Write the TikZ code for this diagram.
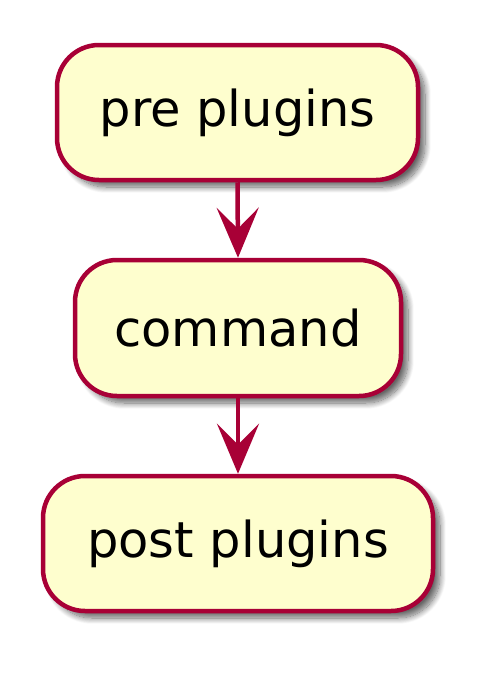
\documentclass[tikz,border=0pt]{standalone}
\usepackage{fontspec}
\setmainfont{DejaVu Sans}
\usetikzlibrary{arrows.meta,shadows.blur}
\definecolor{boxfill}{HTML}{FEFECE}
\definecolor{boxline}{HTML}{A80036}
\begin{document}
\begin{tikzpicture}[x=1pt,y=-1pt,
  act/.style={draw=boxline, fill=boxfill, line width=4.5pt, rounded corners=42pt,
    font=\fontsize{49.5}{58}\selectfont, inner sep=0pt, anchor=center,
    blur shadow={shadow xshift=7pt, shadow yshift=-7pt, shadow blur radius=6pt, shadow blur steps=12, shadow opacity=60}},
  flow/.style={draw=boxline, line width=4.5pt, -{Stealth[length=50pt,width=42pt,inset=21pt]}}]
\useasboundingbox (0,0) rectangle (496,675);
\node[act, minimum width=361pt, minimum height=135pt] (pre) at (237.5,112.5) {pre plugins};
\node[act, minimum width=326pt, minimum height=136pt] (cmd) at (238,328) {command};
\node[act, minimum width=390pt, minimum height=135pt] (post) at (238,543.5) {post plugins};
\draw[flow] (pre.south) -- (cmd.north);
\draw[flow] (cmd.south) -- (post.north);
\end{tikzpicture}
\end{document}
